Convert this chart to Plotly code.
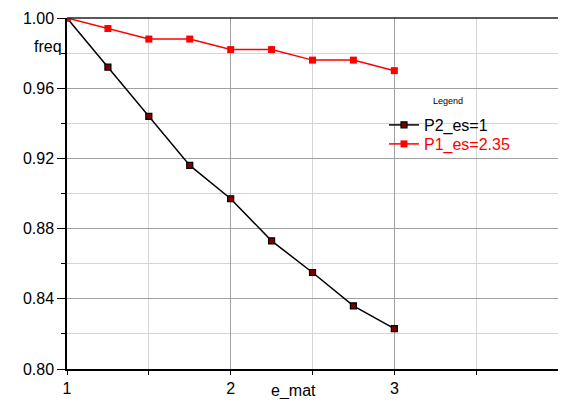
import plotly.graph_objects as go

e_mat = [1.0, 1.25, 1.5, 1.75, 2.0, 2.25, 2.5, 2.75, 3.0]
p2_es1 = [1.000, 0.972, 0.944, 0.916, 0.897, 0.873, 0.855, 0.836, 0.823]
p1_es235 = [1.000, 0.994, 0.988, 0.988, 0.982, 0.982, 0.976, 0.976, 0.970]
x_ticks = [1, 2, 3, 4]
y_ticks = [0.80, 0.84, 0.88, 0.92, 0.96, 1.00]

FONT = "Liberation Sans, Arial, sans-serif"

# page has an 8px body margin; keep the figure inside the 566x407 window
OFF = 8
W, H = 566 - 2 * OFF, 407 - 2 * OFF
PL, PR, PT, PB = 67, 558, 18, 369  # plot area in page pixels


def px(xp):
    return (xp - PL) / (PR - PL)


def py(yp):
    return (PB - yp) / (PB - PT)


fig = go.Figure()
fig.add_trace(go.Scatter(
    x=e_mat, y=p2_es1, mode="lines+markers", name="P2_es=1",
    line=dict(color="black", width=1.5),
    marker=dict(symbol="square", size=6, color="#7a0000",
                line=dict(color="black", width=1.2)),
    legend="legend",
))
fig.add_trace(go.Scatter(
    x=e_mat, y=p1_es235, mode="lines+markers", name="P1_es=2.35",
    line=dict(color="#ff0000", width=1.5),
    marker=dict(symbol="square", size=7, color="#ff0000"),
    legend="legend2",
))

fig.update_layout(
    width=W, height=H,
    margin=dict(l=PL - OFF, r=OFF + W - PR, t=PT - OFF, b=OFF + H - PB),
    paper_bgcolor="white", plot_bgcolor="white",
    font=dict(family=FONT, size=16, color="black"),
    showlegend=True,
    legend=dict(x=px(384), y=py(125), xanchor="left", yanchor="middle",
                bgcolor="rgba(0,0,0,0)", itemwidth=30,
                font=dict(size=16, color="black")),
    legend2=dict(x=px(384), y=py(144), xanchor="left", yanchor="middle",
                 bgcolor="rgba(0,0,0,0)", itemwidth=30,
                 font=dict(size=16, color="#ff0000")),
    xaxis=dict(range=[1, 4], tickvals=x_ticks, ticktext=[str(v) for v in x_ticks],
               showline=True, linecolor="black", linewidth=1.5,
               ticks="outside", ticklen=4, tickcolor="black",
               showgrid=True, gridcolor="#a0a0a0", gridwidth=1,
               zeroline=False,
               minor=dict(dtick=0.5, showgrid=True, gridcolor="#d4d4d4",
                          ticks="outside", ticklen=4, tickcolor="black"),
               tickfont=dict(size=16)),
    yaxis=dict(range=[0.8, 1.0], tickvals=y_ticks,
               ticktext=["%.2f" % v for v in y_ticks],
               showline=True, linecolor="black", linewidth=1.5,
               ticks="outside", ticklen=8, tickcolor="black",
               showgrid=True, gridcolor="#a0a0a0", gridwidth=1,
               zeroline=False,
               minor=dict(dtick=0.02, showgrid=True, gridcolor="#d4d4d4",
                          ticks="outside", ticklen=4, tickcolor="black"),
               tickfont=dict(size=16)),
    shapes=[dict(type="line", xref="paper", yref="paper", x0=0, x1=1, y0=1, y1=1,
                 line=dict(color="#222222", width=1.5))],
    annotations=[
        dict(text="freq", xref="paper", yref="paper", x=px(48), y=py(47),
             xanchor="center", yanchor="middle", showarrow=False,
             font=dict(size=16)),
        dict(text="e_mat", xref="paper", yref="paper", x=px(293), y=py(402),
             xanchor="center", yanchor="bottom", showarrow=False,
             font=dict(size=16)),
        dict(text="Legend", xref="paper", yref="paper", x=px(448), y=py(101),
             xanchor="center", yanchor="middle", showarrow=False,
             font=dict(size=9)),
    ],
)

fig.write_html("out.html")
